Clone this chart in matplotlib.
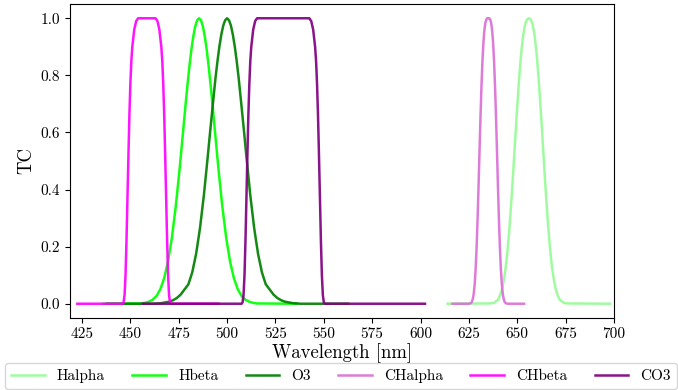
import matplotlib
matplotlib.use("Agg")
import matplotlib.pyplot as plt

plt.rcParams['font.family'] = 'serif'
plt.rcParams['font.serif'] = ['cmr10', 'DejaVu Serif']
plt.rcParams['mathtext.fontset'] = 'cm'
plt.rcParams['axes.formatter.use_mathtext'] = True

# ---- data ----
halpha_wl = [614, 636, 638, 640, 641, 642, 643, 644, 645, 646, 647, 648, 649, 650, 651, 652, 653,
             654, 655, 656, 657, 658, 659, 660, 661, 662, 663, 664, 665, 666, 667, 668, 669, 670,
             671, 672, 674, 676, 698]
halpha_tc = [0, 0.001, 0.003, 0.014, 0.027, 0.048, 0.080, 0.126, 0.189, 0.269, 0.365, 0.472, 0.584,
             0.693, 0.793, 0.876, 0.937, 0.977, 0.996, 1.0, 0.996, 0.977, 0.937, 0.876, 0.793, 0.693,
             0.584, 0.472, 0.365, 0.269, 0.189, 0.126, 0.080, 0.048, 0.027, 0.014, 0.003, 0.001, 0]

hbeta_wl = [436, 455.5, 457.5, 459.5, 461.5, 463.5, 465.5, 467.5, 469.5, 471.5, 473.5, 475.5, 476.5,
            477.5, 478.5, 479.5, 480.5, 481.5, 482.5, 483.5, 484.5, 485.5, 486.5, 487.5, 488.5,
            489.5, 490.5, 491.5, 492.5, 493.5, 494.5, 495.5, 497.5, 499.5, 501.5,
            503.5, 505.5, 507.5, 509.5, 511.5, 513.5, 515.5, 536]
hbeta_tc = [0, 0.001, 0.003, 0.007, 0.014, 0.027, 0.051, 0.090, 0.149, 0.233, 0.343, 0.475, 0.548,
            0.621, 0.695, 0.765, 0.830, 0.888, 0.935, 0.971, 0.993, 1.0, 0.993, 0.971, 0.935,
            0.888, 0.830, 0.765, 0.695, 0.621, 0.548, 0.475, 0.343, 0.233, 0.149, 0.090,
            0.051, 0.027, 0.014, 0.007, 0.003, 0.001, 0]

o3_wl = [438, 462, 466, 470, 472, 474, 476, 478, 480, 482, 484, 486, 488, 490, 491, 492, 493, 494,
         495, 496, 497, 498, 499, 500, 501, 502, 503, 504, 505, 506, 507, 508, 509, 510, 512, 514,
         516, 518, 520, 522, 524, 526, 528, 530, 534, 538, 562.5]
o3_tc = [0, 0, 0.002, 0.007, 0.012, 0.02, 0.032, 0.05, 0.068, 0.11, 0.175, 0.265, 0.38, 0.515, 0.586,
         0.655, 0.723, 0.79, 0.848, 0.90, 0.942, 0.974, 0.993, 1.0, 0.993, 0.974, 0.942, 0.90,
         0.848, 0.79, 0.723, 0.655, 0.586, 0.515, 0.38, 0.265, 0.175, 0.11, 0.068,
         0.05, 0.032, 0.02, 0.012, 0.007, 0.002, 0, 0]

chalpha_wl = [616.5, 625, 626, 626.5, 627, 627.5, 628, 628.5, 629, 629.5, 630, 630.5, 631, 631.5,
              632, 632.5, 633, 633.5, 634, 634.5, 635, 635.5, 636, 636.5, 637, 637.5, 638, 638.5,
              639, 639.5, 640, 640.5, 641, 641.5, 642, 642.5, 643, 643.5, 644, 645, 653.5]
chalpha_tc = [0, 0, 0.002, 0.006, 0.016, 0.035, 0.069, 0.124, 0.201, 0.300, 0.415, 0.538, 0.657,
              0.763, 0.850, 0.915, 0.958, 0.984, 0.996, 1.0, 1.0, 1.0, 0.996, 0.984, 0.958, 0.915,
              0.850, 0.763, 0.657, 0.538, 0.415, 0.300, 0.201, 0.124, 0.069, 0.035, 0.016, 0.006,
              0.002, 0, 0]

chbeta_wl = [422.6, 446, 446.5, 447, 447.5, 448, 448.5, 449, 449.5, 450, 450.5, 451, 452, 453, 454,
             463, 464, 465, 466, 466.5, 467, 467.5, 468, 468.5, 469, 469.5, 470, 470.5, 471, 495.5]
chbeta_tc = [0, 0, 0.005, 0.03, 0.10, 0.22, 0.37, 0.52, 0.66, 0.77, 0.85, 0.90, 0.96, 0.99, 1.0,
             1.0, 0.99, 0.96, 0.90, 0.85, 0.77, 0.66, 0.52, 0.37, 0.22, 0.10, 0.03, 0.005, 0, 0]

co3_wl = [456.5, 507.5, 508, 508.5, 509, 509.5, 510, 510.5, 511, 511.5, 512, 512.5, 513.5, 514.5,
          515.5, 542.5, 543.5, 544.5, 545.5, 546, 546.5, 547, 547.5, 548, 548.5, 549, 549.5, 550,
          550.5, 602.3]
co3_tc = [0, 0, 0.005, 0.03, 0.10, 0.22, 0.37, 0.52, 0.66, 0.77, 0.85, 0.90, 0.96, 0.99, 1.0,
          1.0, 0.99, 0.96, 0.90, 0.85, 0.77, 0.66, 0.52, 0.37, 0.22, 0.10, 0.03, 0.005, 0, 0]

labels = ['Halpha', 'Hbeta', 'O3', 'CHalpha', 'CHbeta', 'CO3']
colors = ['palegreen', 'lime', 'green', 'orchid', 'magenta', 'purple']
series = [(halpha_wl, halpha_tc), (hbeta_wl, hbeta_tc), (o3_wl, o3_tc),
          (chalpha_wl, chalpha_tc), (chbeta_wl, chbeta_tc), (co3_wl, co3_tc)]

xticks = [425, 450, 475, 500, 525, 550, 575, 600, 625, 650, 675, 700]
yticks = [0.0, 0.2, 0.4, 0.6, 0.8, 1.0]

fig = plt.figure(figsize=(6.78, 3.9), dpi=100)
ax = fig.add_axes([70 / 678, (390 - 318) / 390, (614 - 70) / 678, (318 - 4) / 390])

handles = []
for (wl, tc), lab, col in zip(series, labels, colors):
    h, = ax.plot(wl, tc, color=col, lw=1.8, alpha=0.92, label=lab)
    handles.append(h)

ax.set_xlim(418.8, 700)
ax.set_ylim(-0.05, 1.05)
ax.set_xticks(xticks)
ax.set_xticklabels([str(t) for t in xticks])
ax.set_yticks(yticks)
ax.set_yticklabels(['%.1f' % t for t in yticks])
ax.tick_params(labelsize=11)
ax.set_xlabel('Wavelength [nm]', fontsize=13.5, labelpad=1)
ax.set_ylabel('TC', fontsize=13.5)

fig.legend(handles, labels, loc='lower left', ncol=6, mode='expand',
           bbox_to_anchor=(5 / 678, 1 / 390, 672 / 678, 26 / 390), fontsize=11,
           borderaxespad=0.0, handlelength=2.2)

fig.savefig('out.png', dpi=100)
